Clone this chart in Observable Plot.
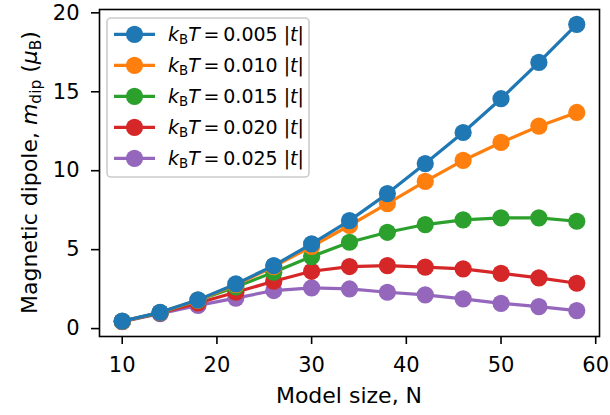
<!DOCTYPE html>
<html><head><meta charset="utf-8">
<script src="https://cdn.jsdelivr.net/npm/d3@7"></script>
<script src="https://cdn.jsdelivr.net/npm/@observablehq/plot@0.6"></script>
<style>html,body{margin:0;padding:0;background:#fff;} #chart{width:610px;height:415px;}</style>
</head><body><div id="chart"></div>
<script>
// Data
const sizes = [10, 14, 18, 22, 26, 30, 34, 38, 42, 46, 50, 54, 58];
const temps = ["0.005", "0.010", "0.015", "0.020", "0.025"];
const colors = ["#1f77b4", "#ff7f0e", "#2ca02c", "#d62728", "#9467bd"];
const m005 = [0.47, 1.03, 1.82, 2.83, 3.99, 5.37, 6.84, 8.55, 10.45, 12.42, 14.56, 16.86, 19.27];
const m010 = [0.46, 1.02, 1.80, 2.78, 3.92, 5.20, 6.53, 7.92, 9.32, 10.65, 11.79, 12.82, 13.69];
const m015 = [0.46, 1.01, 1.79, 2.64, 3.57, 4.56, 5.47, 6.10, 6.59, 6.89, 7.01, 7.01, 6.80];
const m020 = [0.45, 0.99, 1.62, 2.30, 3.00, 3.63, 3.93, 3.99, 3.89, 3.78, 3.50, 3.21, 2.87];
const m025 = [0.44, 0.95, 1.47, 1.93, 2.41, 2.58, 2.51, 2.30, 2.13, 1.88, 1.60, 1.39, 1.14];
const series = [m005, m010, m015, m020, m025];
const xTicks = [10, 20, 30, 40, 50, 60];
const yTicks = [0, 5, 10, 15, 20];

const rows = temps.flatMap((t, i) => sizes.map((n, j) => ({t, n, m: series[i][j]})));

// matplotlib-like 5% margins
const [xmin, xmax] = d3.extent(sizes);
const [ymin, ymax] = d3.extent(rows, d => d.m);
const xp = 0.05 * (xmax - xmin), yp = 0.05 * (ymax - ymin);

const W = 610, H = 415, ML = 99, MR = 11, MT = 9, MB = 79;

const marks = [];
for (let i = temps.length - 1; i >= 0; i--) {
  const data = rows.filter(d => d.t === temps[i]);
  marks.push(Plot.line(data, {x: "n", y: "m", stroke: colors[i], strokeWidth: 3.2}));
  marks.push(Plot.dot(data, {x: "n", y: "m", r: 8.6, fill: colors[i], stroke: "none"}));
}

const svg = Plot.plot({
  width: W, height: H,
  marginLeft: ML, marginRight: MR, marginTop: MT, marginBottom: MB,
  style: "font-family: 'DejaVu Sans', sans-serif; font-size: 21px; background: #fff; color: #000;",
  x: {domain: [xmin - xp, xmax + xp]},
  y: {domain: [ymin - yp, ymax + yp]},
  marks: [
    ...marks,
    Plot.axisX({ticks: xTicks, tickSize: 8, tickPadding: 13, label: null, strokeWidth: 1.6, fontSize: 21}),
    Plot.axisY({ticks: yTicks, tickSize: 8, tickPadding: 12, label: null, strokeWidth: 1.6, fontSize: 21}),
    Plot.frame({stroke: "#000", strokeWidth: 1.6})
  ]
});
document.getElementById("chart").appendChild(svg);

const s = d3.select(svg);
const fam = "'DejaVu Sans', sans-serif";

// X label
s.append("text")
  .attr("x", (ML + W - MR) / 2).attr("y", 403)
  .attr("text-anchor", "middle")
  .attr("font-family", fam).attr("font-size", 22).attr("fill", "#000")
  .text("Model size, N");

// Y label with math
const yl = s.append("text")
  .attr("transform", `translate(37,${(MT + H - MB) / 2}) rotate(-90)`)
  .attr("text-anchor", "middle")
  .attr("font-family", fam).attr("font-size", 22).attr("fill", "#000");
yl.append("tspan").text("Magnetic dipole, ");
yl.append("tspan").attr("font-style", "italic").text("m");
yl.append("tspan").attr("font-size", 15.4).attr("dy", 4).text("dip");
yl.append("tspan").attr("dy", -4).text(" (");
yl.append("tspan").attr("font-style", "italic").text("μ");
yl.append("tspan").attr("font-size", 15.4).attr("dy", 4).text("B");
yl.append("tspan").attr("dy", -4).text(")");

// Legend
const lg = s.append("g");
lg.append("rect").attr("x", 107).attr("y", 18).attr("width", 202).attr("height", 159)
  .attr("rx", 4).attr("fill", "#fff").attr("fill-opacity", 0.8)
  .attr("stroke", "#cccccc").attr("stroke-width", 1.6);
temps.forEach((t, i) => {
  const y = 34.3 + i * 31;
  lg.append("line").attr("x1", 114).attr("x2", 155).attr("y1", y).attr("y2", y)
    .attr("stroke", colors[i]).attr("stroke-width", 3.2);
  lg.append("circle").attr("cx", 134.5).attr("cy", y).attr("r", 8.6).attr("fill", colors[i]);
  const tx = lg.append("text").attr("x", 168).attr("y", y + 6.6)
    .attr("text-anchor", "start")
    .attr("font-family", fam).attr("font-size", 19).attr("fill", "#000");
  tx.append("tspan").attr("font-style", "italic").text("k");
  tx.append("tspan").attr("font-size", 13.3).attr("dy", 3.5).text("B");
  tx.append("tspan").attr("dy", -3.5).attr("font-style", "italic").text("T");
  tx.append("tspan").text("\u2009=\u2009" + t + " |");
  tx.append("tspan").attr("font-style", "italic").text("t");
  tx.append("tspan").text("|");
});
</script>
</body></html>
